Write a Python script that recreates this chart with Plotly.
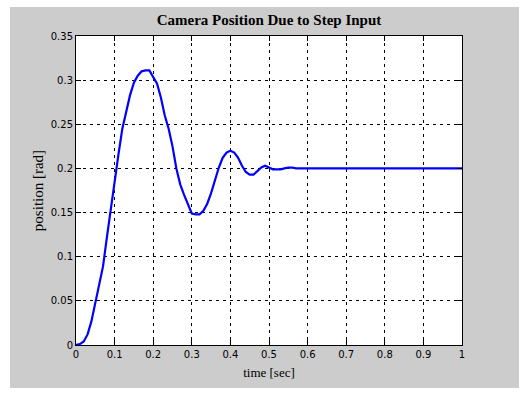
import plotly.graph_objects as go

time = [0.00, 0.01, 0.02, 0.03, 0.04, 0.05, 0.06, 0.07, 0.08, 0.09,
        0.10, 0.11, 0.12, 0.13, 0.14, 0.15, 0.16, 0.17, 0.18, 0.19,
        0.20, 0.21, 0.22, 0.23, 0.24, 0.25, 0.26, 0.27, 0.28, 0.29,
        0.30, 0.31, 0.32, 0.33, 0.34, 0.35, 0.36, 0.37, 0.38, 0.39,
        0.40, 0.41, 0.42, 0.43, 0.44, 0.45, 0.46, 0.47, 0.48, 0.49,
        0.50, 0.51, 0.52, 0.53, 0.54, 0.55, 0.56, 0.57, 0.60, 1.00]
position = [0.000, 0.001, 0.004, 0.012, 0.027, 0.048, 0.070, 0.089, 0.122, 0.155,
            0.184, 0.216, 0.245, 0.266, 0.283, 0.297, 0.305, 0.310, 0.311, 0.311,
            0.304, 0.296, 0.280, 0.260, 0.245, 0.225, 0.200, 0.182, 0.170, 0.159,
            0.149, 0.148, 0.148, 0.152, 0.160, 0.172, 0.188, 0.201, 0.212, 0.218,
            0.220, 0.218, 0.212, 0.203, 0.196, 0.193, 0.193, 0.197, 0.201, 0.203,
            0.201, 0.199, 0.199, 0.199, 0.200, 0.201, 0.201, 0.200, 0.200, 0.200]

x_ticks = [0, 0.1, 0.2, 0.3, 0.4, 0.5, 0.6, 0.7, 0.8, 0.9, 1]
x_tick_labels = ["0", "0.1", "0.2", "0.3", "0.4", "0.5", "0.6", "0.7", "0.8", "0.9", "1"]
y_ticks = [0, 0.05, 0.1, 0.15, 0.2, 0.25, 0.3, 0.35]
y_tick_labels = ["0", "0.05", "0.1", "0.15", "0.2", "0.25", "0.3", "0.35"]

W, H = 532, 395
L, R, T, B = 76, 462, 36, 345
pw, ph = R - L, B - T

def px(x):
    return (x - L) / pw

def py(y):
    return (B - y) / ph

fig = go.Figure()
fig.add_trace(go.Scatter(x=time, y=position, mode="lines",
                         line=dict(color="#0000ff", width=2.2), showlegend=False))

axis_common = dict(showline=True, linecolor="black", linewidth=1, mirror="ticks",
                   ticks="inside", ticklen=5, tickcolor="black",
                   showgrid=True, gridcolor="black", gridwidth=1, griddash="3px,4px",
                   zeroline=False,
                   tickfont=dict(family="DejaVu Sans", size=10, color="black"))

fig.update_xaxes(range=[0, 1], tickvals=x_ticks, ticktext=x_tick_labels,
                 title=dict(text="time [sec]", font=dict(family="Liberation Serif", size=13, color="black"),
                            standoff=8),
                 **axis_common)
fig.update_yaxes(range=[0, 0.35], tickvals=y_ticks, ticktext=y_tick_labels,
                 title=dict(text="position [rad]", font=dict(family="Liberation Serif", size=15, color="black"),
                            standoff=3),
                 **axis_common)

fig.update_layout(
    width=W, height=H,
    margin=dict(l=L, r=W - R, t=T, b=H - B, pad=0),
    paper_bgcolor="white", plot_bgcolor="white",
    title=dict(text="<b>Camera Position Due to Step Input</b>", x=(L + R) / 2 / W, xanchor="center",
               y=1 - 20 / H, yanchor="middle",
               font=dict(family="Liberation Serif", size=15, color="black")),
    shapes=[
        dict(type="rect", xref="paper", yref="paper", x0=px(10), x1=px(519), y0=py(388), y1=py(7),
             fillcolor="#cccccc", line=dict(width=0), layer="below"),
        dict(type="rect", xref="paper", yref="paper", x0=0, x1=1, y0=0, y1=1,
             fillcolor="white", line=dict(width=0), layer="below"),
    ],
)

fig.write_html("out.html")
